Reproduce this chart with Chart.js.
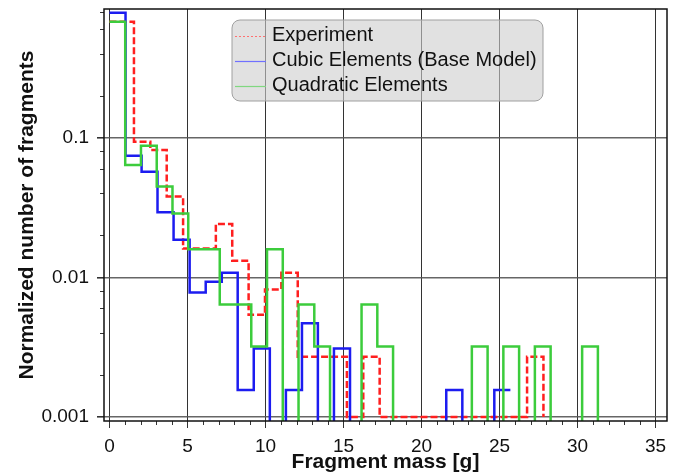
<!DOCTYPE html>
<html>
<head>
<meta charset="utf-8">
<script src="https://cdn.jsdelivr.net/npm/chart.js@4.4.1/dist/chart.umd.min.js"></script>
<style>
  html, body { margin: 0; padding: 0; background: #fff; }
  #wrap { width: 684px; height: 475px; }
</style>
</head>
<body>
<div id="wrap"><canvas id="hist"></canvas></div>
<script>
// bin edges [g] and heights; last value = level the line drops to after the last edge
const expEdges = [0, 1.57, 2.62, 3.67, 4.72, 5.77, 6.82, 7.87, 8.92, 9.97, 11.02, 12.07, 13.12, 14.17,
  15.22, 16.27, 17.32, 18.37, 19.42, 20.47, 21.52, 22.57, 23.62, 24.67, 25.72, 26.77, 27.82];
const expValues = [0.68, 0.094, 0.082, 0.038, 0.0161, 0.0161, 0.0242, 0.0132, 0.0054, 0.0082, 0.0108, 0.0027, 0.0027, 0.0027,
  0.001, 0.0027, 0.001, 0.001, 0.001, 0.001, 0.001, 0.001, 0.001, 0.001, 0.001, 0.0027, 0.001];

const cubicEdges = [0, 1.03, 2.06, 3.08, 4.11, 5.14, 6.17, 7.20, 8.22, 9.25, 10.28, 11.31, 12.34, 13.36,
  14.39, 15.42, 16.45, 17.48, 18.50, 19.53, 20.56, 21.59, 22.62, 23.64, 24.67, 25.70];
const cubicValues = [0.79, 0.0746, 0.0573, 0.0293, 0.0186, 0.0078, 0.0093, 0.0108, 0.00156, 0.0031, 0, 0.00156, 0.0047, 0,
  0.0031, 0, 0, 0, 0, 0, 0, 0.00156, 0, 0, 0.00156, 0.00156];

const quadEdges = [0, 1.01, 2.02, 3.03, 4.04, 5.05, 6.06, 7.07, 8.08, 9.09, 10.10, 11.11, 12.12, 13.13, 14.14, 15.15,
  16.16, 17.17, 18.18, 19.19, 20.20, 21.21, 22.22, 23.23, 24.24, 25.25, 26.26, 27.27, 28.28, 29.29, 30.30, 31.31];
const quadValues = [0.68, 0.064, 0.088, 0.0448, 0.0287, 0.0159, 0.0159, 0.0064, 0.0064, 0.0032, 0.0159, 0, 0.0064, 0.0032, 0, 0,
  0.0064, 0.0032, 0, 0, 0, 0, 0, 0.0032, 0, 0.0032, 0, 0.0032, 0, 0, 0.0032, 0];

const xTicks = [0, 5, 10, 15, 20, 25, 30, 35];
const yTicks = [0.001, 0.01, 0.1];

const FONT = "'Liberation Sans', Arial, sans-serif";

// log axis can't show 0, so push empty bins far below the plot
function steps(edges, values) {
  return edges.map((e, i) => ({ x: e, y: values[i] > 0 ? values[i] : 1e-5 }));
}

const frame = {
  id: 'frame',
  afterDatasetsDraw(chart) {
    const { ctx, chartArea: a, scales } = chart;
    ctx.save();
    // minor ticks
    ctx.strokeStyle = '#333';
    ctx.lineWidth = 1;
    ctx.beginPath();
    [0.001, 0.01, 0.1].forEach(d => {
      [2, 4, 6, 8].forEach(m => {
        const y = Math.round(scales.y.getPixelForValue(d * m)) + 0.5;
        if (y > a.top && y < a.bottom) { ctx.moveTo(a.left - 4, y); ctx.lineTo(a.left, y); }
      });
    });
    for (let v = 1; v < 36; v++) {
      if (v % 5 === 0) continue;
      const x = Math.round(scales.x.getPixelForValue(v)) + 0.5;
      ctx.moveTo(x, a.bottom); ctx.lineTo(x, a.bottom + 4);
    }
    ctx.stroke();
    ctx.strokeStyle = '#111';
    ctx.lineWidth = 1.5;
    ctx.strokeRect(a.left, a.top, a.right - a.left, a.bottom - a.top);
    ctx.restore();
  }
};

const boxLegend = {
  id: 'boxLegend',
  afterDraw(chart) {
    const { ctx, chartArea: a } = chart;
    const x0 = a.left + 128, y0 = a.top + 11, w = 311, h = 81, r = 8;
    ctx.save();
    ctx.beginPath();
    ctx.moveTo(x0 + r, y0);
    ctx.arcTo(x0 + w, y0, x0 + w, y0 + h, r);
    ctx.arcTo(x0 + w, y0 + h, x0, y0 + h, r);
    ctx.arcTo(x0, y0 + h, x0, y0, r);
    ctx.arcTo(x0, y0, x0 + w, y0, r);
    ctx.closePath();
    ctx.fillStyle = 'rgba(205,205,205,0.6)';
    ctx.fill();
    ctx.strokeStyle = '#a0a0a0';
    ctx.lineWidth = 1;
    ctx.stroke();
    ctx.font = '20px ' + FONT;
    ctx.textBaseline = 'middle';
    ctx.fillStyle = '#111';
    chart.data.datasets.forEach((ds, i) => {
      const y = y0 + 15 + i * 25;
      ctx.beginPath();
      ctx.setLineDash(ds.legendDash);
      ctx.strokeStyle = ds.legendColor;
      ctx.lineWidth = 1.2;
      ctx.moveTo(x0 + 3, y + 1.5);
      ctx.lineTo(x0 + 34, y + 1.5);
      ctx.stroke();
      ctx.setLineDash([]);
      ctx.fillText(ds.label, x0 + 40, y);
    });
    ctx.restore();
  }
};

new Chart(document.getElementById('hist'), {
  type: 'line',
  data: {
    datasets: [
      {
        label: 'Experiment',
        data: steps(expEdges, expValues),
        borderColor: '#ff1f1f',
        borderDash: [7, 3],
        borderWidth: 2.5,
        order: 3,
        legendColor: '#ff7070',
        legendDash: [2, 2]
      },
      {
        label: 'Cubic Elements (Base Model)',
        data: steps(cubicEdges, cubicValues),
        borderColor: '#1c1cf0',
        borderWidth: 2.5,
        order: 2,
        legendColor: '#7070ff',
        legendDash: []
      },
      {
        label: 'Quadratic Elements',
        data: steps(quadEdges, quadValues),
        borderColor: '#3ccc3c',
        borderWidth: 2.5,
        order: 1,
        legendColor: '#80d880',
        legendDash: []
      }
    ]
  },
  options: {
    responsive: true,
    maintainAspectRatio: false,
    animation: false,
    elements: {
      point: { radius: 0, hoverRadius: 0 },
      line: { stepped: true, fill: false, borderJoinStyle: 'miter' }
    },
    layout: { padding: { left: 0, right: 17, top: 9, bottom: 0 } },
    plugins: {
      legend: { display: false },
      tooltip: { enabled: false }
    },
    scales: {
      x: {
        type: 'linear',
        min: -0.35,
        max: 35.74,
        afterBuildTicks: s => { s.ticks = xTicks.map(v => ({ value: v })); },
        afterFit: s => { s.height = 54; s.paddingLeft = 0; s.paddingRight = 0; },
        ticks: {
          autoSkip: false,
          maxRotation: 0,
          padding: 7,
          color: '#111',
          font: { family: FONT, size: 19 },
          callback: v => String(v)
        },
        grid: { color: '#333', lineWidth: 1, tickLength: 7, tickColor: '#333' },
        border: { display: false },
        title: {
          display: true,
          text: 'Fragment mass [g]',
          color: '#111',
          font: { family: FONT, size: 21, weight: 'bold' },
          padding: { top: 0, bottom: 0 }
        }
      },
      y: {
        type: 'logarithmic',
        min: 0.000936,
        max: 0.84,
        afterBuildTicks: s => { s.ticks = yTicks.map(v => ({ value: v })); },
        afterFit: s => { s.width = 104; s.paddingTop = 0; s.paddingBottom = 0; },
        ticks: {
          padding: 8,
          color: '#111',
          font: { family: FONT, size: 19 },
          callback: v => String(v)
        },
        grid: { color: 'rgba(85,85,85,0.9)', lineWidth: 1.6, tickLength: 7, tickColor: '#333' },
        border: { display: false },
        title: {
          display: true,
          text: 'Normalized number of fragments',
          color: '#111',
          font: { family: FONT, size: 21, weight: 'bold' },
          padding: { top: 15, bottom: 0 }
        }
      }
    }
  },
  plugins: [frame, boxLegend]
});
</script>
</body>
</html>
